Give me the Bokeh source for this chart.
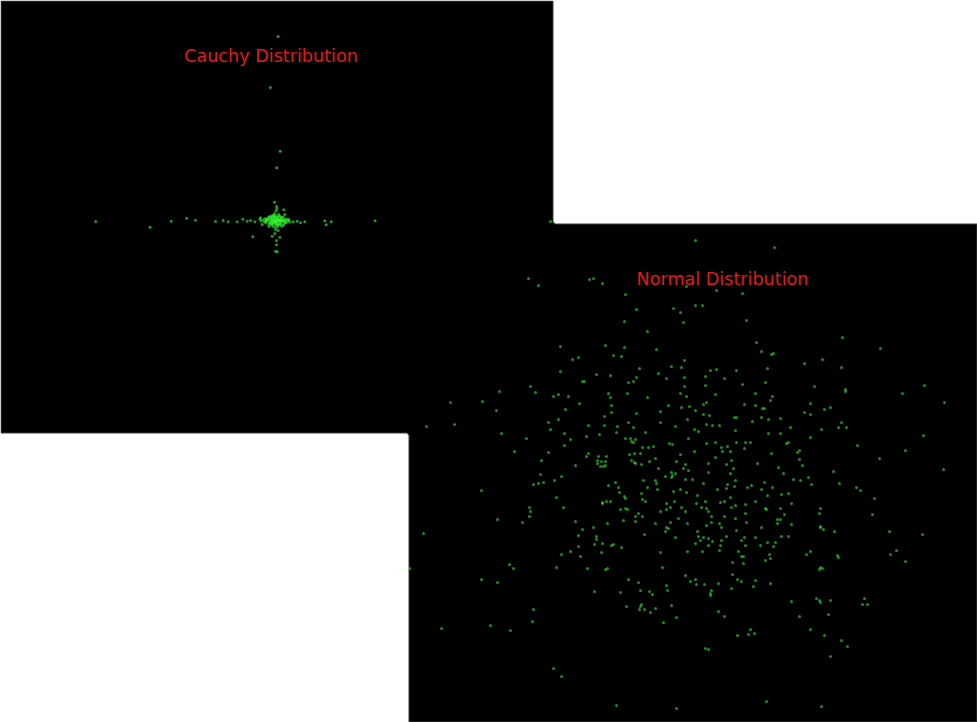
from bokeh.plotting import figure
from bokeh.models import Range1d, Label
from bokeh.embed import file_html
from bokeh.resources import INLINE

# ---------------- data ----------------
titles = ["Cauchy Distribution", "Normal Distribution"]

# Cauchy sample: scattered points (x, y)
cauchy_outer = [
    (0.26, 18.4), (-0.52, 13.3), (0.47, 6.93), (0.12, 5.27), (-0.10, 1.83),
    (0.13, 1.17), (0.83, 1.07), (0.93, 0.60), (-17.98, -0.10), (-12.54, -0.67),
    (-10.43, -0.07), (-8.88, 0.23), (-8.00, 0.03), (-6.00, -0.10), (-5.23, 0.00),
    (-4.73, -0.13), (-3.83, -0.13), (-3.27, 0.13), (-2.83, -0.07), (-2.50, 0.00),
    (-2.07, -0.13), (-1.50, 0.27), (-1.33, -0.40), (-0.67, -0.60), (-2.27, -1.63),
    (-0.33, -1.57), (0.10, -2.00), (0.10, -2.43), (0.00, -3.07), (0.17, -3.13),
    (0.43, -1.67), (0.27, -1.00), (1.33, 0.00), (1.77, -0.13), (2.17, -0.07),
    (2.50, -0.23), (2.93, -0.13), (4.93, -0.03), (5.07, -0.43), (5.57, -0.13),
    (9.96, -0.03), (27.50, -0.10), (0.73, 0.00), (1.07, -0.23),
]
# Cauchy sample: dense core
cauchy_core = [
    (-1.25, 0.05), (-1.10, -0.15), (-1.05, 0.20), (-0.95, -0.25), (-0.85, 0.12),
    (-0.80, -0.05), (-0.72, 0.30), (-0.65, -0.38), (-0.60, 0.00), (-0.55, 0.42),
    (-0.50, -0.18), (-0.46, 0.15), (-0.40, -0.48), (-0.37, 0.25), (-0.33, -0.06),
    (-0.29, 0.52), (-0.26, -0.30), (-0.23, 0.10), (-0.20, -0.62), (-0.16, 0.36),
    (-0.13, -0.14), (-0.10, 0.68), (-0.07, 0.02), (-0.04, -0.42), (0.00, 0.22),
    (0.03, -0.10), (0.07, 0.48), (0.09, -0.68), (0.13, 0.06), (0.16, -0.24),
    (0.20, 0.30), (0.23, -0.52), (0.26, 0.12), (0.29, -0.02), (0.33, 0.62),
    (0.36, -0.36), (0.39, 0.18), (0.43, -0.12), (0.47, 0.42), (0.52, -0.26),
    (0.56, 0.06), (0.60, -0.58), (0.65, 0.24), (0.72, -0.10), (0.78, 0.36),
    (0.85, -0.30), (0.92, 0.10), (0.98, -0.18), (1.07, 0.14), (1.17, -0.06),
    (1.30, 0.12), (1.43, -0.14), (-1.43, -0.06), (-1.56, 0.12), (0.00, -0.90),
    (0.06, 0.95), (-0.06, -1.30), (0.12, 1.40), (-0.20, 0.00), (0.20, -0.06),
    (-0.39, 0.06), (0.46, 0.00), (0.00, 0.00), (0.10, 0.14), (-0.10, -0.12),
    (0.26, -0.42), (-0.26, 0.36), (0.58, 0.30), (-0.58, -0.24), (0.78, -0.48),
    (-0.70, 0.18), (-0.30, -0.22), (0.30, 0.40), (0.50, -0.40), (-0.15, 0.50),
    (0.10, -0.35), (-0.90, 0.05), (0.90, -0.02), (-0.50, 0.35), (0.40, 0.00),
    (-0.05, 0.30), (0.05, -0.20), (-0.35, -0.32), (0.68, 0.02), (-1.00, -0.05),
]

# Normal sample (x, y)
normal_upper = [
    (-1.72, 1.92), (-1.62, 1.85), (-1.11, 1.91), (-1.07, 1.92), (-1.40, 1.24),
    (-1.28, 1.11), (-1.22, 1.13), (-1.40, 0.99), (-1.04, 0.96), (-1.18, 0.89),
    (-1.16, 0.89), (-1.70, 0.84),
    (-0.05, 2.30), (0.74, 2.23), (-0.98, 1.87), (-0.14, 1.84), (0.16, 1.80),
    (0.42, 1.77), (-0.75, 1.76), (-0.05, 1.65), (0.02, 1.65), (-0.27, 1.62),
    (-0.20, 1.58), (-0.64, 1.61), (-0.76, 1.49), (-0.17, 1.48), (0.46, 1.50),
    (-0.53, 1.39), (-0.95, 1.25), (-0.76, 1.23), (-0.44, 1.21), (0.56, 1.28),
    (0.61, 1.19), (0.71, 1.16), (0.73, 1.17), (-0.87, 1.15), (-0.79, 1.14),
    (-0.16, 1.10), (-0.29, 1.04), (-0.19, 1.03), (-0.61, 1.02), (0.10, 1.00),
    (0.16, 1.01), (0.36, 1.00), (0.67, 1.02), (-0.90, 0.95), (-0.64, 0.93),
    (-0.42, 0.97), (-0.34, 0.92), (-0.16, 0.93), (0.05, 0.94), (0.24, 0.92),
    (-0.72, 0.88), (-0.67, 0.89), (-0.16, 0.84), (0.05, 0.85), (0.42, 0.86),
    (0.65, 0.88),
    (1.42, 1.33), (1.80, 1.22), (1.04, 1.07), (1.22, 1.11), (1.41, 1.03),
    (1.14, 0.84), (2.24, 0.85), (1.45, 0.81),
]
normal_left = [
    (-2.01, 0.79), (-1.65, 0.78), (-1.47, 0.74), (-1.42, 0.76), (-1.32, 0.74),
    (-1.21, 0.67), (-2.50, 0.68), (-2.18, 0.69), (-2.04, 0.60), (-1.35, 0.61),
    (-2.74, 0.44), (-2.46, 0.46), (-1.52, 0.48), (-1.42, 0.51), (-1.12, 0.45),
    (-1.50, 0.41), (-1.36, 0.37), (-1.99, 0.37), (-1.74, 0.32), (-1.30, 0.31),
    (-1.14, 0.34), (-1.36, 0.25), (-1.86, 0.19), (-1.52, 0.18), (-1.12, 0.17),
    (-1.14, 0.14), (-1.03, 0.10), (-1.03, 0.07), (-1.59, 0.10), (-1.25, 0.05),
    (-1.60, -0.04), (-1.39, -0.06), (-1.46, -0.10), (-1.57, -0.12), (-1.62, -0.13),
    (-1.67, -0.14), (-2.19, -0.20), (-1.44, -0.27), (-1.71, -0.37), (-1.37, -0.37),
    (-1.70, -0.41), (-1.71, -0.46), (-2.03, -0.49), (-1.78, -0.52), (-1.25, -0.51),
    (-1.18, -0.59), (-1.07, -0.57), (-1.22, -0.65), (-1.04, -0.66), (-1.04, -0.69),
    (-2.77, -0.63), (-1.06, -0.74), (-1.22, -0.76), (-1.30, -0.81), (-1.39, -0.84),
    (-1.20, -0.86),
]
normal_center = [
    (-0.92, 0.77), (-0.90, 0.73), (-0.73, 0.77), (-0.53, 0.73), (-0.20, 0.77),
    (-0.14, 0.74), (0.15, 0.76), (0.55, 0.77), (0.72, 0.74), (0.70, 0.70),
    (-0.89, 0.65), (-0.32, 0.65), (-0.19, 0.63), (-0.11, 0.64), (0.03, 0.66),
    (0.06, 0.68), (0.44, 0.66), (0.55, 0.65), (0.62, 0.62), (0.64, 0.62),
    (-0.89, 0.58), (-0.64, 0.57), (-0.40, 0.59), (-0.05, 0.60), (0.03, 0.56),
    (0.09, 0.55), (-0.96, 0.54), (0.34, 0.53), (0.36, 0.53), (0.61, 0.53),
    (0.80, 0.52), (0.68, 0.51), (-0.96, 0.45), (-0.83, 0.44), (-0.72, 0.48),
    (-0.67, 0.43), (-0.40, 0.48), (-0.25, 0.44), (-0.13, 0.51), (0.06, 0.46),
    (0.12, 0.45), (0.19, 0.45), (0.52, 0.49), (-1.01, 0.36), (-0.84, 0.38),
    (-0.75, 0.32), (-0.70, 0.32), (-0.69, 0.29), (-0.67, 0.28), (-0.65, 0.31),
    (-0.55, 0.38), (-0.06, 0.41), (-0.02, 0.39), (0.35, 0.40), (-0.12, 0.32),
    (0.68, 0.37), (0.80, 0.37), (0.45, 0.28), (0.50, 0.28), (0.06, 0.27),
    (0.15, 0.28), (0.36, 0.28), (-0.31, 0.27), (-0.28, 0.26), (-0.52, 0.23),
    (-0.47, 0.24), (-0.58, 0.23), (0.21, 0.23), (0.27, 0.24), (0.44, 0.22),
    (0.86, 0.27), (0.88, 0.28), (-0.06, 0.19), (0.22, 0.19), (0.30, 0.19),
    (-1.02, 0.14), (-0.94, 0.14), (-0.71, 0.16), (-0.66, 0.17), (-0.60, 0.17),
    (-0.20, 0.16), (0.71, 0.17), (0.15, 0.13), (-0.99, 0.09), (-0.95, 0.09),
    (-0.69, 0.10), (-0.66, 0.08), (-0.51, 0.09), (-0.45, 0.12), (-0.24, 0.09),
    (-0.15, 0.06), (0.08, 0.07), (0.26, 0.06), (0.31, 0.10), (0.57, 0.07),
    (-1.00, 0.04), (-0.97, 0.04), (-0.95, 0.05), (-0.65, 0.07), (-0.59, 0.06),
    (0.78, 0.03), (-0.12, 0.00), (-0.42, 0.02), (0.33, 0.02), (-0.17, 0.02),
    (-0.29, -0.02), (-0.28, -0.05), (-0.29, -0.07), (-0.25, -0.03), (0.08, -0.02),
    (0.30, -0.03), (0.83, -0.03), (-0.35, -0.06), (-0.15, -0.09), (-0.08, -0.09),
    (-0.57, -0.10), (-0.45, -0.10), (-0.44, -0.13), (0.35, -0.10), (-0.85, -0.12),
    (0.03, -0.13), (0.64, -0.12), (0.51, -0.15), (0.27, -0.14), (0.26, -0.18),
    (0.34, -0.16), (-0.92, -0.15), (-0.82, -0.17), (-0.53, -0.17), (-0.43, -0.19),
    (-0.20, -0.19), (-0.27, -0.21), (-0.14, -0.22), (0.17, -0.19), (0.47, -0.17),
    (0.61, -0.19), (0.72, -0.17), (-0.81, -0.22), (-0.59, -0.23), (-0.03, -0.25),
    (0.30, -0.27), (0.67, -0.25), (0.81, -0.24), (-0.76, -0.26), (-0.75, -0.28),
    (-0.98, -0.32), (-0.98, -0.33), (-0.94, -0.31), (-0.90, -0.31), (-0.58, -0.29),
    (-0.55, -0.31), (-0.34, -0.33), (-0.26, -0.31), (-0.04, -0.33), (0.05, -0.31),
    (0.20, -0.32), (0.24, -0.31), (0.55, -0.31), (-0.30, -0.37), (-0.34, -0.39),
    (-0.19, -0.37), (0.01, -0.37), (0.06, -0.38), (0.31, -0.37), (0.35, -0.35),
    (0.45, -0.34), (0.65, -0.38), (0.66, -0.39), (0.80, -0.38), (-0.80, -0.39),
    (-0.75, -0.38), (-0.73, -0.39), (-0.62, -0.43), (-0.40, -0.41), (-0.15, -0.41),
    (0.08, -0.41), (0.11, -0.46), (0.24, -0.46), (0.35, -0.48), (0.45, -0.43),
    (0.84, -0.44), (-0.65, -0.46), (-0.58, -0.46), (-0.22, -0.48), (0.77, -0.49),
    (0.80, -0.49), (-0.93, -0.53), (-0.77, -0.50), (-0.65, -0.51), (-0.45, -0.53),
    (-0.30, -0.52), (-0.13, -0.53), (0.06, -0.55), (0.11, -0.52), (0.19, -0.53),
    (0.21, -0.57), (0.46, -0.52), (0.77, -0.53), (-0.34, -0.57), (-0.32, -0.58),
    (-0.35, -0.61), (-0.03, -0.61), (0.36, -0.60), (0.61, -0.57), (-0.56, -0.64),
    (-0.25, -0.67), (-0.02, -0.66), (0.03, -0.67), (0.08, -0.68), (0.26, -0.66),
    (0.44, -0.67), (0.55, -0.67), (0.81, -0.66), (-0.98, -0.73), (-0.89, -0.75),
    (-0.87, -0.74), (0.00, -0.70), (0.12, -0.71), (0.21, -0.70), (0.41, -0.70),
    (0.67, -0.72), (0.75, -0.72), (-0.05, -0.73), (0.08, -0.75), (0.20, -0.75),
    (0.60, -0.75), (0.73, -0.76), (-0.79, -0.77), (0.45, -0.75), (-0.99, -0.82),
    (-0.40, -0.82), (-0.13, -0.81), (0.02, -0.81), (0.19, -0.80), (0.38, -0.81),
    (0.41, -0.86), (0.43, -0.86), (0.69, -0.84),
]
normal_right = [
    (1.45, 0.79), (2.02, 0.77), (2.44, 0.68), (1.10, 0.67), (1.04, 0.58),
    (1.10, 0.56), (1.24, 0.61), (1.30, 0.63), (1.41, 0.48), (1.38, 0.43),
    (1.46, 0.43), (0.90, 0.43), (1.21, 0.41), (2.23, 0.35), (1.10, 0.33),
    (1.57, 0.25), (2.05, 0.20), (0.97, 0.18), (0.99, 0.20), (1.79, 0.12),
    (0.99, 0.11), (1.02, 0.05), (2.43, 0.01), (1.33, -0.01), (0.93, -0.09),
    (1.00, -0.10), (1.08, -0.07), (1.11, -0.14), (1.39, -0.13), (1.56, -0.17),
    (1.60, -0.20), (0.88, -0.23), (1.74, -0.28), (0.91, -0.33), (1.20, -0.38),
    (1.19, -0.43), (1.72, -0.44), (0.91, -0.54), (1.20, -0.56), (1.20, -0.57),
    (1.23, -0.59), (1.34, -0.61), (1.89, -0.61), (2.22, -0.64), (0.88, -0.66),
    (1.10, -0.81), (1.06, -0.84), (1.37, -0.85), (1.90, -0.84), (1.96, -0.80),
]
normal_lower = [
    (-2.91, -0.98), (-1.91, -0.94), (-1.87, -0.98), (-1.44, -0.97), (-1.13, -0.98),
    (-2.19, -1.09), (-2.03, -1.12), (-1.06, -1.21), (-1.67, -1.39), (-1.68, -1.51),
    (-2.59, -1.58), (-2.10, -1.55), (-1.90, -1.60), (-1.47, -1.98), (-1.39, -2.06),
    (-0.95, -0.99), (-0.93, -0.98), (-0.38, -0.97), (0.32, -0.92), (0.43, -0.93),
    (0.65, -0.90), (0.70, -0.88), (-0.72, -1.09), (-0.62, -1.12), (-0.15, -1.05),
    (-0.10, -1.11), (-0.05, -1.09), (-0.04, -1.14), (0.04, -1.14), (0.18, -1.13),
    (0.32, -1.04), (0.37, -1.09), (0.41, -1.11), (0.55, -1.10), (0.70, -1.13),
    (-0.34, -1.15), (-0.33, -1.20), (-0.60, -1.20), (-0.51, -1.21), (-0.48, -1.24),
    (-0.80, -1.22), (0.11, -1.20), (0.10, -1.23), (0.10, -1.25), (0.31, -1.18),
    (0.53, -1.16), (-0.74, -1.36), (-0.59, -1.34), (-0.60, -1.36), (-0.61, -1.39),
    (-0.56, -1.39), (-0.45, -1.38), (-0.50, -1.42), (-0.29, -1.35), (-0.24, -1.47),
    (-0.37, -1.52), (0.18, -1.41), (0.24, -1.46), (0.50, -1.59), (0.48, -1.64),
    (0.54, -1.63), (0.37, -1.65), (0.05, -1.78), (0.08, -1.79), (-0.84, -2.35),
    (-0.24, -2.38), (0.66, -2.31),
    (1.38, -0.87), (2.05, -0.91), (1.20, -0.97), (1.22, -0.98), (1.19, -0.99),
    (0.91, -1.31), (1.16, -1.28), (1.19, -1.30), (1.20, -1.32), (1.30, -1.30),
    (1.64, -1.28), (1.62, -1.34), (1.67, -1.34), (1.28, -1.44), (0.99, -1.46),
    (1.10, -1.59), (1.24, -1.65), (1.41, -1.70), (1.47, -1.76), (1.30, -1.86),
    (1.21, -2.36),
]

cauchy_pts = cauchy_outer + cauchy_core
normal_pts = normal_upper + normal_left + normal_center + normal_right + normal_lower
cauchy_x = [p[0] for p in cauchy_pts]
cauchy_y = [p[1] for p in cauchy_pts]
normal_x = [p[0] for p in normal_pts]
normal_y = [p[1] for p in normal_pts]

# ---------------- styles ----------------
BORDER = "#3c3c3c"
PANEL = "#000000"
DOT = "#33ff33"
TITLE = "#e31a1a"

p = figure(width=977, height=722,
           x_range=Range1d(-7.0, 2.77), y_range=Range1d(-2.52, 4.70),
           output_backend="svg", toolbar_location=None,
           x_axis_location=None, y_axis_location=None, min_border=0)
p.grid.visible = False
p.outline_line_color = None
p.background_fill_color = "white"
p.border_fill_color = "white"
p.extra_x_ranges = {"cx": Range1d(-27.5, 70.2)}
p.extra_y_ranges = {"cy": Range1d(-50.2, 22.0)}

# panels (Cauchy panel in its own ranges, Normal panel in the default ranges)
p.quad(left=[-27.45], right=[27.75], top=[21.95], bottom=[-21.25],
       x_range_name="cx", y_range_name="cy",
       fill_color=PANEL, line_color=BORDER, line_width=1)
p.quad(left=[-2.915], right=[2.765], top=[2.465], bottom=[-2.515],
       fill_color=PANEL, line_color=BORDER, line_width=1)
# hide the inner edges where the two panels overlap
p.quad(left=[-2.93], right=[-1.46], top=[2.48], bottom=[0.36],
       fill_color=PANEL, line_color=None)

p.scatter(cauchy_x, cauchy_y, x_range_name="cx", y_range_name="cy",
          marker="circle", size=3, fill_color=DOT, fill_alpha=0.6, line_color=None)
p.scatter(normal_x, normal_y,
          marker="circle", size=3, fill_color=DOT, fill_alpha=0.55, line_color=None)

p.add_layout(Label(x=-0.45, y=16.5, x_range_name="cx", y_range_name="cy",
                   text=titles[0], text_align="center", text_baseline="middle",
                   text_font="DejaVu Sans", text_font_size="17.6px", text_color=TITLE))
p.add_layout(Label(x=0.22, y=1.92,
                   text=titles[1], text_align="center", text_baseline="middle",
                   text_font="DejaVu Sans", text_font_size="17.6px", text_color=TITLE))

open("out.html", "w").write(file_html(p, INLINE))
